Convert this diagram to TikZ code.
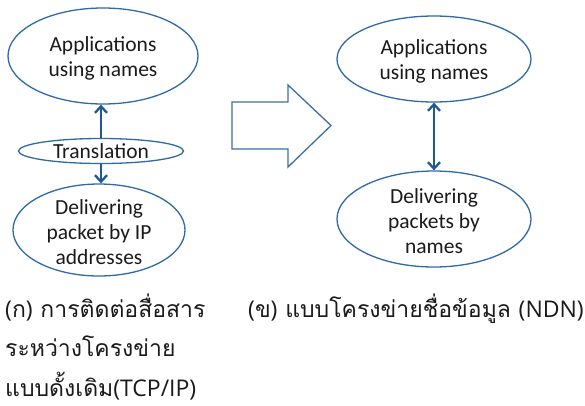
\documentclass[tikz,border=0pt]{standalone}
\usepackage{fontspec}
\setmainfont{Carlito}
\newfontfamily\thaifont[Script=Thai]{Loma}
\newfontfamily\latinfont{Open Sans}
\newcommand{\lat}[1]{{\latinfont #1}}
\usetikzlibrary{shapes.geometric,arrows.meta}
\definecolor{ringblue}{HTML}{2E6AA6}
\definecolor{arrowblue}{HTML}{1F5896}
\definecolor{shapeblue}{HTML}{3A6FA8}
\definecolor{inkgray}{HTML}{1A1A1A}
\tikzset{
  bubble/.style={ellipse, draw=ringblue, line width=1.3pt, inner sep=0pt},
  bubbletext/.style={align=center, text=inkgray, font=\fontsize{21.5}{25}\selectfont, inner sep=0pt},
  barb/.tip={Straight Barb[length=6.5pt,width=12pt,line width=2.3pt]},
  linkarrow/.style={draw=arrowblue, line width=2.6pt, -barb},
  bothways/.style={draw=arrowblue, line width=2.6pt, barb-barb},
  caption/.style={anchor=base west, inner sep=0pt, text=inkgray, font=\thaifont\fontsize{23}{26}\selectfont}
}
\begin{document}
\begin{tikzpicture}[x=1pt,y=-1pt]
\useasboundingbox (0,0) rectangle (585,405);

% left column: TCP/IP stack
\node[bubble, minimum width=190pt, minimum height=96pt] (appL) at (103,56) {};
\node[bubbletext] (appLt) at (103,58) {Applications\\using names};
\node[bubble, minimum width=165pt, minimum height=25pt] (tr) at (101,151) {};
\node[bubbletext] (trt) at (101,151) {Translation};
\node[bubble, minimum width=172pt, minimum height=92pt] (delL) at (99,230) {};
\node[bubbletext] (delLt) at (99,232) {Delivering\\packet by IP\\addresses};

\draw[linkarrow] (tr.north) -- (tr.north |- appL.south);
\draw[linkarrow] (tr.south) -- (tr.south |- delL.north);

% block arrow between the two stacks
\draw[draw=shapeblue, line width=1.3pt, line join=miter]
  (232,102) -- (288,102) -- (288,85) -- (331,125.5) -- (288,167) -- (288,149) -- (232,149) -- cycle;

% right column: NDN stack
\node[bubble, minimum width=194pt, minimum height=86pt] (appR) at (434,59) {};
\node[bubbletext] (appRt) at (434,61) {Applications\\using names};
\node[bubble, minimum width=194pt, minimum height=96pt] (delR) at (434,219) {};
\node[bubbletext] (delRt) at (434,221) {Delivering\\packets by\\names};

\draw[bothways] (appR.south) -- (delR.north);

% captions
\node[caption] (capA1) at (5,317) {\lat{(}ก\lat{)} การติดต่อสื่อสาร};
\node[caption] (capA2) at (5,356.5) {ระหว่างโครงข่าย};
\node[caption] (capA3) at (5,396) {แบบดั้งเดิม\lat{(TCP/IP)}};
\node[caption] (capB) at (248,317) {\lat{(}ข\lat{)} แบบโครงข่ายชื่อข้อมูล \lat{(NDN)}};
\end{tikzpicture}
\end{document}
